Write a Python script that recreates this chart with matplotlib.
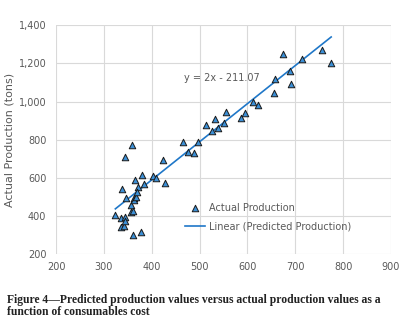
import numpy as np
import matplotlib.pyplot as plt

# consumables cost vs actual production
cost = [324, 335, 335, 341, 344, 345, 337, 345, 347, 356, 357, 361, 360, 359,
        362, 365, 362, 367, 371, 369, 377, 380, 383, 402, 409, 424, 427,
        465, 475, 488, 496, 513, 526, 532, 538, 550, 556, 586, 595, 612, 623,
        656, 658, 674, 688, 692, 714, 756, 775]
actual = [407, 387, 344, 346, 396, 373, 540, 709, 495, 457, 419, 424, 298, 772,
          492, 590, 483, 501, 550, 527, 318, 614, 569, 608, 601, 693, 574,
          786, 737, 731, 790, 876, 846, 911, 859, 889, 943, 913, 938, 1000, 980,
          1043, 1118, 1250, 1162, 1090, 1222, 1271, 1204]

slope, intercept = 2.0, -211.07

fig = plt.figure(figsize=(4.12, 3.29), dpi=100)
ax = fig.add_axes([0.136, 0.228, 0.813, 0.695])

gray = '#595959'
ax.set_xlim(200, 900)
ax.set_ylim(200, 1400)
ax.set_xticks(range(200, 901, 100))
ax.set_yticks(range(200, 1401, 200))
ax.set_yticklabels(['{:,}'.format(v) for v in range(200, 1401, 200)])
ax.grid(True, color='#d9d9d9', linewidth=0.8)
ax.set_axisbelow(True)
for s in ax.spines.values():
    s.set_visible(False)
ax.tick_params(length=0, labelsize=7, colors=gray)
ax.tick_params(axis='y', pad=7)
ax.tick_params(axis='x', pad=6)
ax.set_ylabel('Actual Production (tons)', fontsize=8, color=gray, labelpad=3)

xs = np.array([min(cost), max(cost)])
ax.plot(xs, slope * xs + intercept, color='#1f77c8', linewidth=1.2,
        label='Linear (Predicted Production)', zorder=2)
ax.scatter(cost, actual, marker='^', s=22, c='#3b8fd6', edgecolors='#1a1a1a',
           linewidths=0.7, label='Actual Production', zorder=3)

ax.text(467, 1125, 'y = 2x - 211.07', fontsize=7, color=gray, va='center')

handles, labels = ax.get_legend_handles_labels()
ax.legend(handles[::-1], labels[::-1], loc='lower left', bbox_to_anchor=(0.36, 0.06),
          frameon=False, fontsize=7, labelcolor=gray, handlelength=2.0,
          handletextpad=0.4, labelspacing=0.9)

cap = dict(fontsize=8.4, fontweight='bold', family='Liberation Serif',
           color='#222222', va='baseline')
fig.text(0.018, 1 - 303.5 / 329,
         'Figure 4\u2014Predicted production values versus actual production values as a', **cap)
fig.text(0.018, 1 - 315 / 329, 'function of consumables cost', **cap)

fig.savefig('out.png', dpi=100)
